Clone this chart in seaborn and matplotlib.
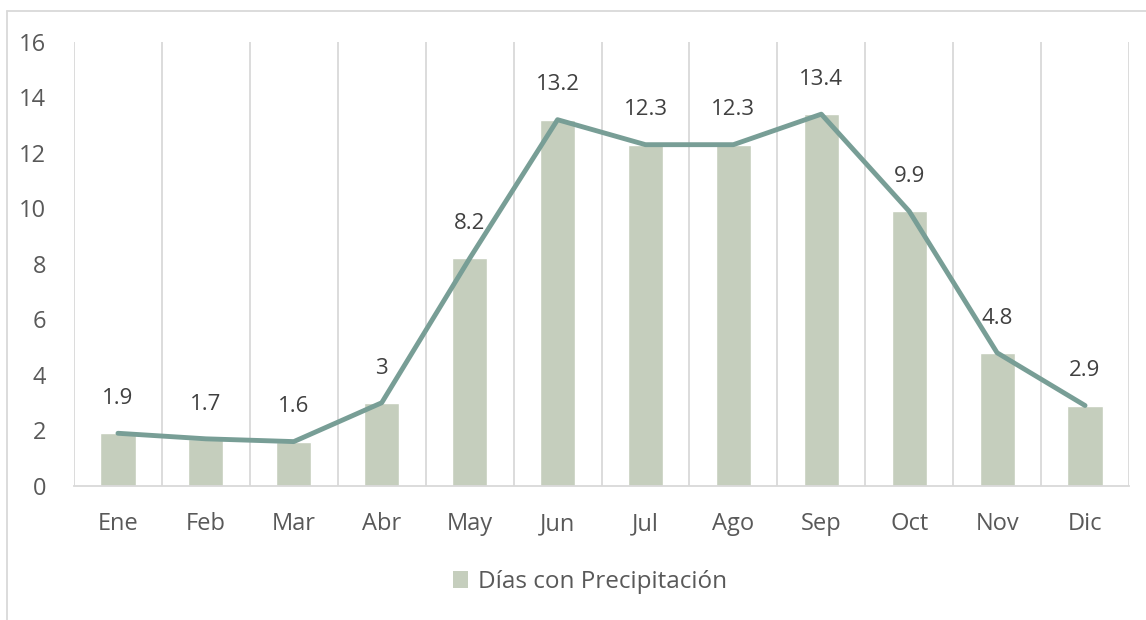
import matplotlib
matplotlib.use("Agg")
import matplotlib.pyplot as plt
from matplotlib.lines import Line2D
from matplotlib.patches import Patch
import numpy as np
import pandas as pd
import seaborn as sns

months = ["Ene", "Feb", "Mar", "Abr", "May", "Jun", "Jul", "Ago", "Sep", "Oct", "Nov", "Dic"]
rain_days = [1.9, 1.7, 1.6, 3, 8.2, 13.2, 12.3, 12.3, 13.4, 9.9, 4.8, 2.9]
value_labels = ["1.9", "1.7", "1.6", "3", "8.2", "13.2", "12.3", "12.3", "13.4", "9.9", "4.8", "2.9"]
series_name = "Días con Precipitación"
y_ticks = [0, 2, 4, 6, 8, 10, 12, 14, 16]

BAR = "#C5CEBD"
LINE = "#789E96"
GRID = "#D9D9D9"
TICK_TXT = "#595959"
LABEL_TXT = "#404040"

sns.set_theme(style="white")
plt.rcParams["font.family"] = ["Open Sans", "DejaVu Sans"]

df = pd.DataFrame({"mes": months, "dias": rain_days})

W, H = 1146, 620
fig = plt.figure(figsize=(W / 100, H / 100), dpi=100)
ax = fig.add_axes([74 / W, 1 - 486 / H, (1129 - 74) / W, (486 - 42) / H])

sns.barplot(data=df, x="mes", y="dias", color=BAR, width=0.4, saturation=1,
            ax=ax, zorder=2)
sns.lineplot(data=df, x="mes", y="dias", color=LINE, linewidth=3.5, sort=False,
             ax=ax, zorder=3, solid_capstyle="round", solid_joinstyle="round")

for i, (v, t) in enumerate(zip(rain_days, value_labels)):
    ax.annotate(t, (i, v), xytext=(0, 25), textcoords="offset points",
                ha="center", va="center", fontsize=16, color=LABEL_TXT, zorder=4)

ax.set_xlim(-0.5, len(months) - 0.5)
ax.set_ylim(0, 16)
ax.set_yticks(y_ticks)
ax.set_xlabel("")
ax.set_ylabel("")

# category separators drawn as minor gridlines that also hang below the axis
ax.set_xticks(np.arange(-0.5, len(months), 1.0), minor=True)
ax.grid(True, which="minor", axis="x", color=GRID, linewidth=1.3, zorder=0)
ax.grid(False, which="major")
ax.tick_params(axis="x", which="minor", length=6.5, width=1.3, color=GRID, direction="out")
ax.tick_params(axis="x", which="major", length=0, pad=19, labelsize=17, labelcolor=TICK_TXT)
ax.tick_params(axis="y", which="both", length=0, pad=20, labelsize=17, labelcolor=TICK_TXT)

for side in ["top", "right", "left"]:
    ax.spines[side].set_visible(False)
ax.spines["bottom"].set_color(GRID)
ax.spines["bottom"].set_linewidth(1.3)

leg = fig.legend(handles=[Patch(facecolor=BAR, edgecolor="none", label=series_name)],
                 loc="center", bbox_to_anchor=(590 / W, 1 - 582 / H), frameon=False,
                 fontsize=17.5, handlelength=0.65, handleheight=0.65, handletextpad=0.4)
for txt in leg.get_texts():
    txt.set_color(TICK_TXT)

# outer chart frame (left and top edges)
fx, fy = 7 / W, 1 - 11 / H
fig.add_artist(Line2D([fx, fx], [0, fy], color=GRID, linewidth=1.3, transform=fig.transFigure))
fig.add_artist(Line2D([fx, 1], [fy, fy], color=GRID, linewidth=1.3, transform=fig.transFigure))

fig.savefig("out.png", dpi=100, facecolor="white")
